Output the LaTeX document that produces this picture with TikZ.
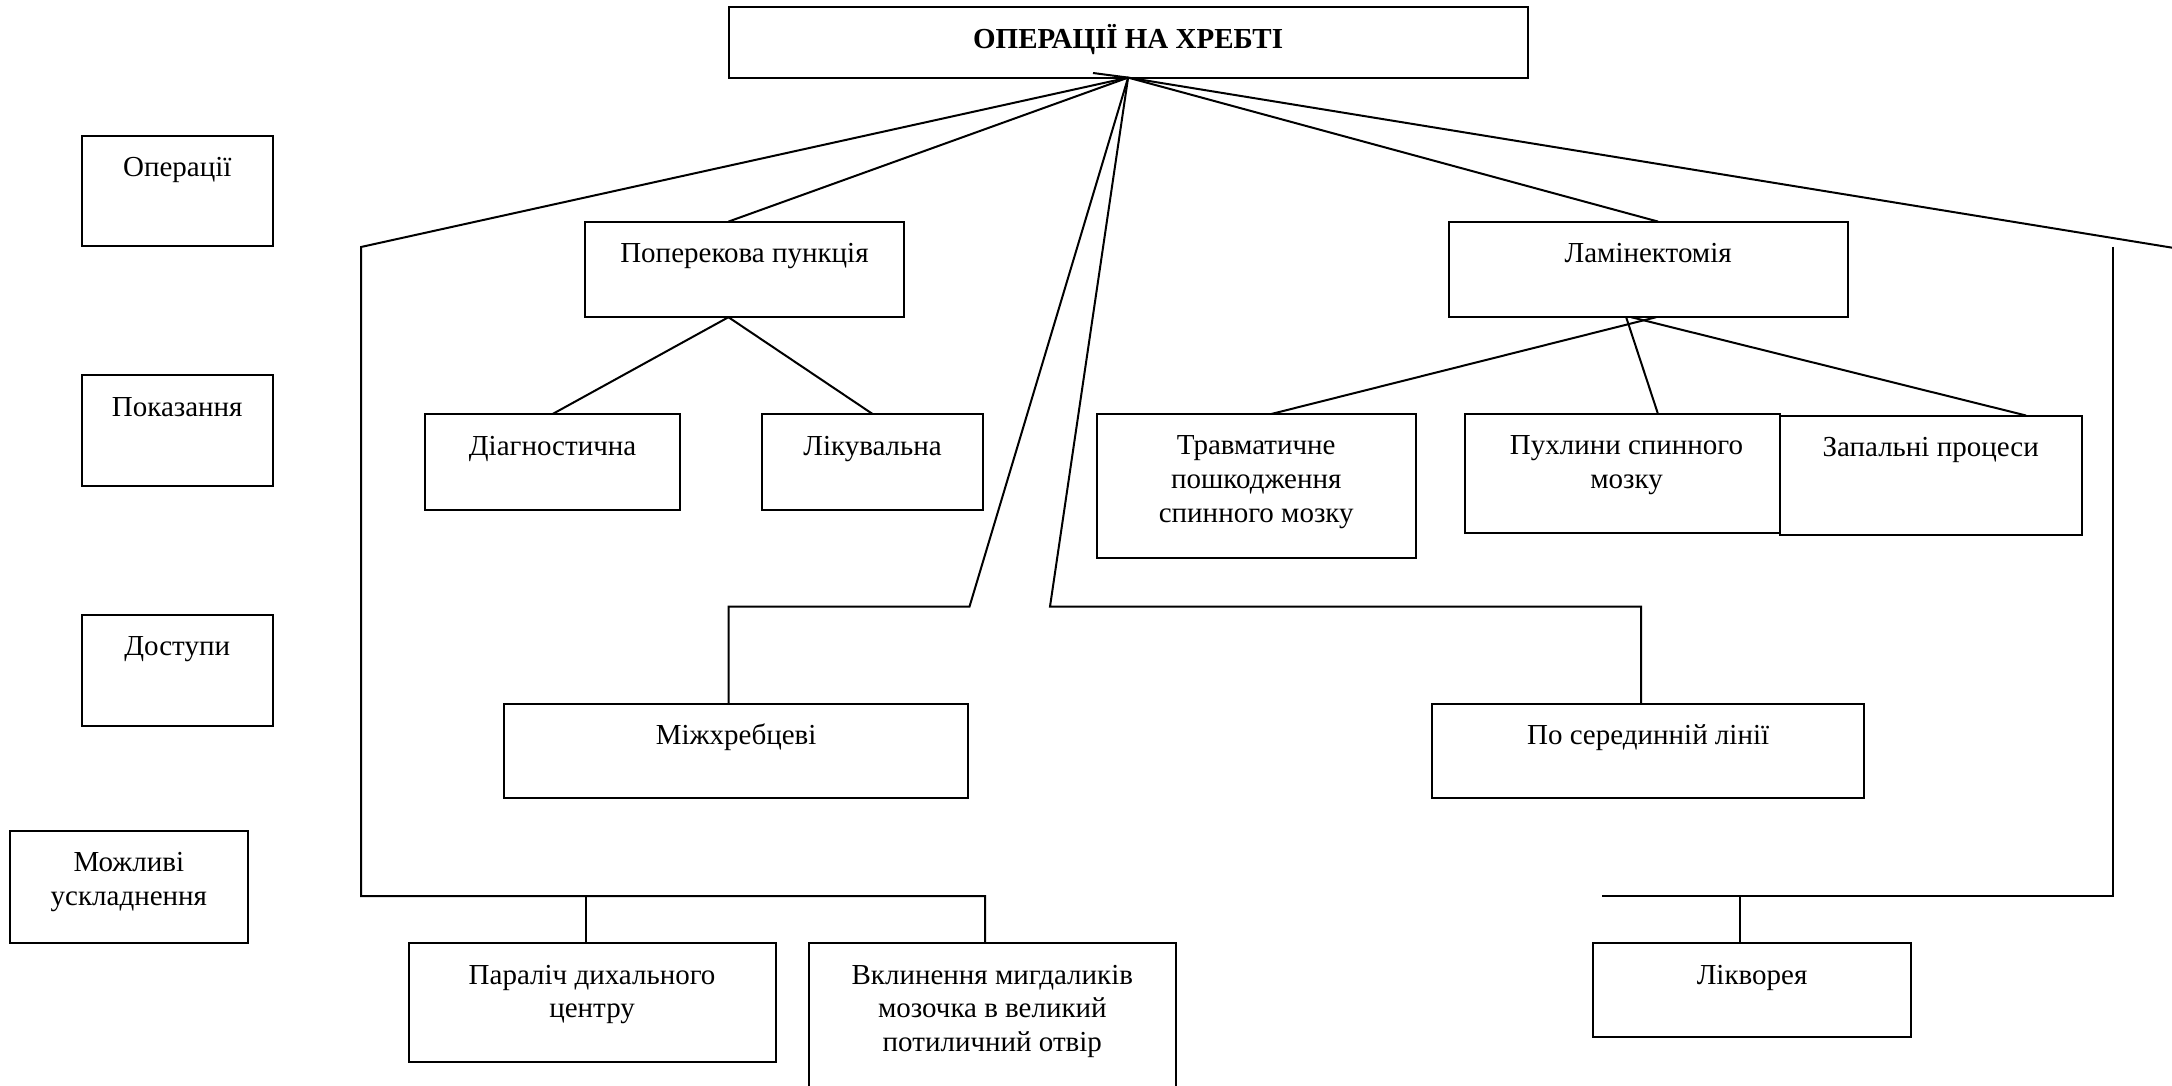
\documentclass[tikz,border=0pt]{standalone}
\usepackage{fontspec}
\setmainfont{Liberation Serif}
\newcommand\mybox[5]{\node[bx, anchor=north west, minimum width={(#4)-(#2)}, minimum height={(#5)-(#3)}] (#1) at (#2,#3) {};}
\tikzset{
  bx/.style={draw, rectangle, line width=2pt, inner sep=0pt, outer sep=0pt},
  ln/.style={line width=2pt},
  tx/.style={font=\fontsize{29}{33.8}\selectfont, align=center, inner sep=0pt, anchor=north, execute at begin node=\strut},
}
\begin{document}
\begin{tikzpicture}[x=1pt,y=-1pt]
\useasboundingbox[fill=white] (0,0) rectangle (2172,1086);
% boxes
\mybox{title}{728.5}{7}{1527.7}{77.6}
\mybox{op}{81.7}{135.7}{272.8}{246.5}
\mybox{pk}{81.7}{375.3}{272.8}{486.1}
\mybox{ds}{81.7}{615}{272.8}{725.7}
\mybox{mu}{9.7}{831}{248}{943.2}
\mybox{pp}{584.5}{221.6}{904.4}{317.2}
\mybox{lam}{1448.7}{221.6}{1847.6}{317.2}
\mybox{dg}{425.2}{414}{680}{509.7}
\mybox{lk}{761.8}{414}{983.4}{509.7}
\mybox{tr}{1097}{414}{1415.5}{558.2}
\mybox{ph}{1465.3}{414}{1779.7}{533.2}
\mybox{zp}{1779.7}{415.5}{2081.7}{534.6}
\mybox{mz}{504.1}{703.6}{968.1}{797.8}
\mybox{sl}{1432}{703.6}{1864.2}{797.8}
\mybox{pd}{408.6}{943.2}{775.6}{1062.3}
\mybox{vk}{808.8}{943.2}{1175.9}{1110}
\mybox{lv}{1592.8}{943.2}{1911.3}{1037.4}
% texts
\node[font=\bfseries\fontsize{29}{34}\selectfont, inner sep=0pt, anchor=base] (title-t) at ([yshift=-41.5pt]title.north) {ОПЕРАЦІЇ НА ХРЕБТІ};
\node[tx] (op-t) at ([yshift=-17pt]op.north) {Операції};
\node[tx] (pk-t) at ([yshift=-17pt]pk.north) {Показання};
\node[tx] (ds-t) at ([yshift=-17pt]ds.north) {Доступи};
\node[tx] (mu-t) at ([yshift=-21.5pt]mu.north) {Можливі\\ускладнення};
\node[tx] (pp-t) at ([yshift=-17pt]pp.north) {Поперекова пункція};
\node[tx] (lam-t) at ([yshift=-17pt]lam.north) {Ламінектомія};
\node[tx] (dg-t) at ([yshift=-18pt]dg.north) {Діагностична};
\node[tx] (lk-t) at ([yshift=-18pt]lk.north) {Лікувальна};
\node[tx] (tr-t) at ([yshift=-21.5pt]tr.north) {Травматичне\\пошкодження\\спинного мозку};
\node[tx] (ph-t) at ([yshift=-21.5pt,xshift=4pt]ph.north) {Пухлини спинного\\мозку};
\node[tx] (zp-t) at ([yshift=-17pt]zp.north) {Запальні процеси};
\node[tx] (mz-t) at ([yshift=-17pt]mz.north) {Міжхребцеві};
\node[tx] (sl-t) at ([yshift=-17pt]sl.north) {По серединній лінії};
\node[tx] (pd-t) at ([yshift=-21.5pt]pd.north) {Параліч дихального\\центру};
\node[tx] (vk-t) at ([yshift=-21.5pt]vk.north) {Вклинення мигдаликів\\мозочка в великий\\потиличний отвір};
\node[tx] (lv-t) at ([yshift=-17pt]lv.north) {Лікворея};
% connector coordinates
\coordinate (hub) at (title.south);
\coordinate (stub) at (1093,73);
\coordinate (lc) at (361,247);
\coordinate (lb) at (361,896);
\coordinate (lr) at (985,896);
\coordinate (lp) at (586,896);
\coordinate (m1) at (969.5,606.6);
\coordinate (m2) at (728.5,606.6);
\coordinate (m3) at (1050,606.6);
\coordinate (m4) at (1641,606.6);
\coordinate (re) at (2190,250.6);
\coordinate (rt) at (2113,247);
\coordinate (rb) at (2113,896);
\coordinate (rl) at (1602,896);
\coordinate (rk) at (1740,896);
% connectors
\draw[ln] (stub) -- (hub);
\draw[ln] (hub) -- (lc) -- (lb) -- (lr) -- (vk.north -| lr);
\draw[ln] (lp) -- (pd.north -| lp);
\draw[ln] (hub) -- ([xshift=-16pt]pp.north);
\draw[ln] (hub) -- (m1) -- (m2) -- (mz.north -| m2);
\draw[ln] (hub) -- (m3) -- (m4) -- (sl.north -| m4);
\draw[ln] (hub) -- ([xshift=10pt]lam.north);
\draw[ln] (hub) -- (re);
\draw[ln] (rt) -- (rb) -- (rl);
\draw[ln] (rk) -- (lv.north -| rk);
\draw[ln] ([xshift=-16pt]pp.south) -- (dg.north);
\draw[ln] ([xshift=-16pt]pp.south) -- (lk.north);
\draw[ln] ([xshift=8pt]lam.south) -- ([xshift=15pt]tr.north);
\draw[ln] ([xshift=-22pt]lam.south) -- ([xshift=35.5pt]ph.north);
\draw[ln] ([xshift=-17pt]lam.south) -- ([xshift=95.3pt]zp.north);
\end{tikzpicture}
\end{document}
